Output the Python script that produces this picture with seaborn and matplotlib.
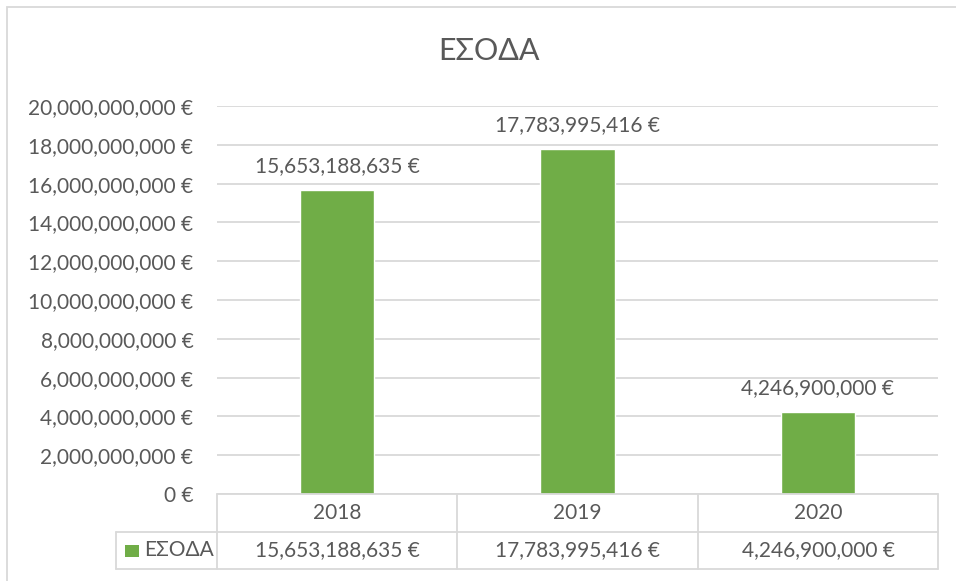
import matplotlib
matplotlib.use('Agg')
import matplotlib.pyplot as plt
import seaborn as sns
import pandas as pd
from matplotlib.lines import Line2D
from matplotlib.patches import Rectangle

years = ['2018', '2019', '2020']
esoda = [15653188635, 17783995416, 4246900000]
series_name = 'ΕΣΟΔΑ'
yticks = list(range(0, 20000000001, 2000000000))

GREEN = '#70AD47'
TEXT = '#595959'
GRID = '#D9D9D9'

sns.set_theme(style='white')
plt.rcParams['font.family'] = ['Lato', 'Noto Sans', 'DejaVu Sans']

W, H = 956, 581
fig = plt.figure(figsize=(W / 100, H / 100), dpi=100)


def fx(px):
    return px / W


def fy(py):
    return 1 - py / H


# plot area
left, right, top, bottom = 217, 938, 106, 494
ax = fig.add_axes([fx(left), fy(bottom), fx(right - left), fy(top) - fy(bottom)])

df = pd.DataFrame({'year': years, 'value': esoda})
sns.barplot(data=df, x='year', y='value', color=GREEN, width=0.31,
            saturation=1, ax=ax)
ax.set_xlim(-0.5, 2.5)
ax.set_ylim(0, 20000000000)
ax.set_yticks(yticks)
ax.set_yticklabels([f'{v:,} €' for v in yticks], color=TEXT, fontsize=15)
ax.tick_params(axis='y', length=0, pad=17)
ax.set_xticks([])
ax.set_xlabel('')
ax.set_ylabel('')
for s in ax.spines.values():
    s.set_visible(False)
ax.grid(axis='y', color=GRID, linewidth=1.3)
ax.set_axisbelow(True)

ax.bar_label(ax.containers[0], labels=[f'{v:,} €' for v in esoda],
             padding=10, color=TEXT, fontsize=15)

# title
fig.text(fx(489), fy(51), series_name, ha='center', va='center',
         color=TEXT, fontsize=22)

# outer chart border
fig.add_artist(Rectangle((fx(7), fy(600)), fx(980), fy(7) - fy(600),
                         fill=False, edgecolor=GRID, linewidth=1.3,
                         transform=fig.transFigure))

# data table
row1, row2, row3 = 494, 532, 569
cols = [217, 457, 698, 938]
lines = [
    ((cols[0], cols[-1]), (row1, row1)),
    ((116, cols[-1]), (row2, row2)),
    ((116, cols[-1]), (row3, row3)),
    ((116, 116), (row2, row3)),
]
for c in cols:
    lines.append(((c, c), (row1, row3)))
for xs, ys in lines:
    fig.add_artist(Line2D([fx(xs[0]), fx(xs[1])], [fy(ys[0]), fy(ys[1])],
                          color=GRID, linewidth=1.3, transform=fig.transFigure))

for i, (yr, v) in enumerate(zip(years, esoda)):
    cx = (cols[i] + cols[i + 1]) / 2
    fig.text(fx(cx), fy((row1 + row2) / 2), yr, ha='center', va='center',
             color=TEXT, fontsize=15)
    fig.text(fx(cx), fy((row2 + row3) / 2), f'{v:,} €', ha='center',
             va='center', color=TEXT, fontsize=15)

# legend key inside table
fig.add_artist(Rectangle((fx(125), fy(557)), fx(14), fy(545) - fy(557),
                         facecolor=GREEN, edgecolor='none',
                         transform=fig.transFigure))
fig.text(fx(144), fy((row2 + row3) / 2), series_name, ha='left', va='center',
         color=TEXT, fontsize=15)

fig.savefig('out.png', dpi=100)
